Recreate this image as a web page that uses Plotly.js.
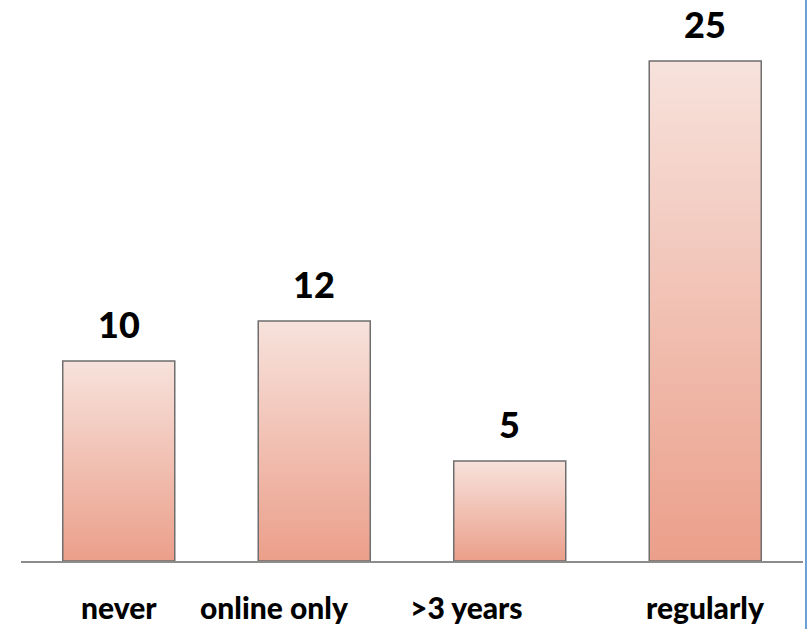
<!DOCTYPE html>
<html>
<head>
<meta charset="utf-8">
<script src="https://cdn.plot.ly/plotly-3.0.1.min.js"></script>
<style>
  html, body { margin: 0; padding: 0; background: #ffffff; }
  #chart { width: 810px; height: 629px; }
</style>
</head>
<body>
<div id="chart"></div>
<script>
const categories = ["never", "online only", ">3 years", "regularly"];
const counts = [10, 12, 5, 25];

const FONT = "Lato, 'Open Sans', sans-serif";
// horizontal nudges of the category labels (the reference labels are not all centred)
const labelNudge = [0, -40, -43, 0];

const trace = {
  type: "bar",
  x: categories,
  y: counts,
  width: 0.573,
  marker: {
    color: "#F0B6A6",
    line: { color: "#6E6E6E", width: 1.5 }
  },
  hoverinfo: "skip"
};

const valueLabels = categories.map((c, i) => ({
  x: c,
  y: counts[i],
  xref: "x",
  yref: "y",
  text: String(counts[i]),
  showarrow: false,
  yanchor: "middle",
  yshift: 37,
  font: { family: FONT, size: 36, color: "#000000", weight: 900 }
}));

const categoryLabels = categories.map((c, i) => ({
  x: c,
  y: 0,
  xref: "x",
  yref: "paper",
  text: c,
  showarrow: false,
  yanchor: "middle",
  yshift: -46,
  xshift: labelNudge[i],
  font: { family: FONT, size: 30, color: "#000000", weight: 900 }
}));

const layout = {
  width: 810,
  height: 629,
  margin: { l: 21, r: 7, t: 0, b: 68 },
  paper_bgcolor: "#ffffff",
  plot_bgcolor: "#ffffff",
  showlegend: false,
  xaxis: {
    type: "category",
    range: [-0.5, 3.5],
    showline: true,
    linecolor: "#8C8C8C",
    linewidth: 1.5,
    ticks: "",
    showgrid: false,
    zeroline: false,
    showticklabels: false
  },
  yaxis: {
    range: [0, 28.05],
    visible: false,
    showgrid: false,
    zeroline: false
  },
  annotations: valueLabels.concat(categoryLabels),
  shapes: [{
    type: "line",
    xref: "paper", yref: "paper",
    x0: 1.0038, x1: 1.0038,
    y0: -68 / 561, y1: 1,
    line: { color: "#6A9FD4", width: 2 }
  }]
};

Plotly.newPlot("chart", [trace], layout, { displayModeBar: false, staticPlot: true }).then(function (gd) {
  const svg = gd.querySelector("svg.main-svg");
  const ns = "http://www.w3.org/2000/svg";
  let defs = svg.querySelector("defs");
  if (!defs) { defs = document.createElementNS(ns, "defs"); svg.insertBefore(defs, svg.firstChild); }
  const grad = document.createElementNS(ns, "linearGradient");
  grad.setAttribute("id", "barGrad");
  grad.setAttribute("x1", "0"); grad.setAttribute("y1", "0");
  grad.setAttribute("x2", "0"); grad.setAttribute("y2", "1");
  [["0", "#F7E2DC"], ["1", "#EB9F8A"]].forEach(function (s) {
    const st = document.createElementNS(ns, "stop");
    st.setAttribute("offset", s[0]);
    st.setAttribute("stop-color", s[1]);
    grad.appendChild(st);
  });
  defs.appendChild(grad);
  gd.querySelectorAll(".bars .point path").forEach(function (p) {
    p.style.fill = "url(#barGrad)";
    p.style.fillOpacity = "1";
  });
});
</script>
</body>
</html>
